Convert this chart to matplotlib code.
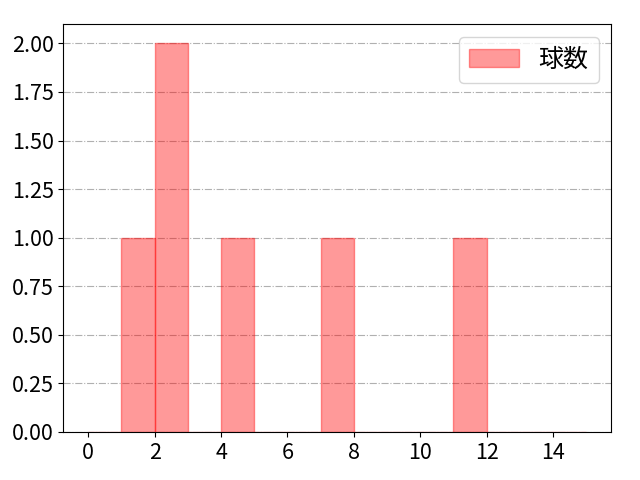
import matplotlib
matplotlib.use("Agg")
import matplotlib.pyplot as plt

plt.rcParams['font.family'] = ['Noto Sans CJK JP', 'DejaVu Sans']

bin_edges = list(range(0, 16))
counts = [0, 1, 2, 0, 1, 0, 0, 1, 0, 0, 0, 1, 0, 0, 0]
label = "球数"
xticks = [0, 2, 4, 6, 8, 10, 12, 14]

fig = plt.figure(figsize=(6.4, 4.8), dpi=100)
ax = fig.add_axes([0.099, 0.1, 0.856, 0.85])
ax.bar(bin_edges[:-1], counts, width=1, align='edge', color='red', alpha=0.4,
       edgecolor='red', linewidth=1, label=label)
ax.set_xticks(xticks)
ax.yaxis.set_major_formatter(matplotlib.ticker.FormatStrFormatter('%.2f'))
ax.grid(axis='y', linestyle='-.', color='#b0b0b0')
ax.set_axisbelow(True)
ax.tick_params(labelsize=15.5)
ax.legend(loc='upper right', fontsize=18)
fig.savefig("out.png", dpi=100)
